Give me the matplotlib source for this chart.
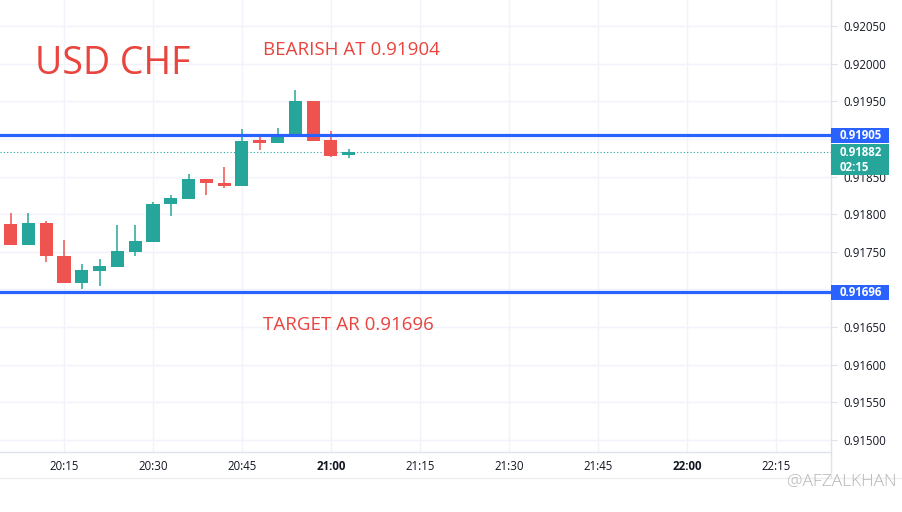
import matplotlib
matplotlib.use("Agg")
import matplotlib.pyplot as plt
from matplotlib.patches import Rectangle
from matplotlib.lines import Line2D

plt.rcParams['font.family'] = ['Open Sans', 'DejaVu Sans']

# ---- data (3-minute candles, minutes after 20:00) ----
times = ["20:06", "20:09", "20:12", "20:15", "20:18", "20:21", "20:24", "20:27", "20:30", "20:33",
         "20:36", "20:39", "20:42", "20:45", "20:48", "20:51", "20:54", "20:57", "21:00", "21:03"]
opens = [0.91787, 0.91759, 0.91788, 0.91744, 0.91709, 0.91725, 0.91730, 0.91750, 0.91763, 0.91813,
         0.91820, 0.91847, 0.91841, 0.91837, 0.91898, 0.91895, 0.91902, 0.91950, 0.91899, 0.91878]
highs = [0.91802, 0.91802, 0.91791, 0.91765, 0.91734, 0.91740, 0.91785, 0.91785, 0.91816, 0.91825,
         0.91853, 0.91847, 0.91863, 0.91913, 0.91903, 0.91915, 0.91965, 0.91950, 0.91910, 0.91886]
lows = [0.91759, 0.91759, 0.91737, 0.91709, 0.91701, 0.91705, 0.91730, 0.91744, 0.91763, 0.91798,
        0.91820, 0.91825, 0.91835, 0.91837, 0.91885, 0.91895, 0.91902, 0.91897, 0.91876, 0.91875]
closes = [0.91759, 0.91788, 0.91744, 0.91709, 0.91726, 0.91731, 0.91751, 0.91764, 0.91814, 0.91822,
          0.91847, 0.91841, 0.91837, 0.91897, 0.91895, 0.91903, 0.91950, 0.91897, 0.91877, 0.91882]

resistance = 0.91905
support = 0.91696
current = 0.91882
countdown = "02:15"

x_tick_labels = ["20:15", "20:30", "20:45", "21:00", "21:15", "21:30", "21:45", "22:00", "22:15"]
y_ticks = [0.91500, 0.91550, 0.91600, 0.91650, 0.91700, 0.91750, 0.91800, 0.91850,
           0.91900, 0.91950, 0.92000, 0.92050]
y_hidden = [0.91700, 0.91900]  # covered by the price badges

title = "USD CHF"
note_top = "BEARISH AT 0.91904"
note_bottom = "TARGET AR 0.91696"
watermark = "@AFZALKHAN"

# ---- styles ----
UP = "#26a69a"
DOWN = "#ef5350"
BLUE = "#2962ff"
TXT_RED = "#e9443d"
GRID = "#f0f3fa"
AXC = "#e0e3eb"
LBL = "#131722"

W, H = 902, 512
fig = plt.figure(figsize=(W / 100, H / 100), dpi=100)
ax = fig.add_axes([0, 60 / H, 831 / W, 452 / H])


def tmin(s):
    h, m = s.split(":")
    return (int(h) - 20) * 60 + int(m)


xs = [tmin(t) for t in times]
ax.set_xlim(4.21, 144.3)
ax.set_ylim(0.91484, 0.920845)

for x, o, h, l, c in zip(xs, opens, highs, lows, closes):
    col = UP if c >= o else DOWN
    ax.vlines(x, l, h, color=col, linewidth=1.1, zorder=3)
    bot = min(o, c)
    ht = max(abs(c - o), 0.000015)
    ax.bar(x, ht, bottom=bot, width=2.2, color=col, edgecolor=col, linewidth=0, zorder=4)

ax.axhline(resistance, color=BLUE, linewidth=2.3, zorder=5)
ax.axhline(support, color=BLUE, linewidth=2.3, zorder=5)
ax.axhline(current, color=UP, linewidth=0.8, linestyle=(0, (1, 2)), zorder=2)

# axes styling
xt = [tmin(t) for t in x_tick_labels]
ax.set_xticks(xt)
ax.set_xticklabels(x_tick_labels)
for lab, s in zip(ax.get_xticklabels(), x_tick_labels):
    if s.endswith(":00"):
        lab.set_fontweight("bold")
ax.yaxis.tick_right()
ax.set_yticks(y_ticks)
ax.set_yticklabels(["" if any(abs(v - hv) < 1e-9 for hv in y_hidden) else f"{v:.5f}" for v in y_ticks])
ax.tick_params(axis="y", length=4, color=AXC, pad=5, labelsize=8.3, labelcolor=LBL)
ax.tick_params(axis="x", length=0, pad=6, labelsize=8.3, labelcolor=LBL)
ax.grid(True, color=GRID, linewidth=1)
ax.set_axisbelow(True)
for s in ("top", "left"):
    ax.spines[s].set_visible(False)
for s in ("right", "bottom"):
    ax.spines[s].set_color(AXC)
    ax.spines[s].set_linewidth(1)

# extension of chart frame below the time scale
fig.add_artist(Line2D([0, 1], [1 - 478 / H, 1 - 478 / H], transform=fig.transFigure, color="#eceef2", linewidth=1))
fig.add_artist(Line2D([831 / W, 831 / W], [1 - 478 / H, 60 / H], transform=fig.transFigure, color=AXC, linewidth=1))

# annotations
fig.text(35 / W, 1 - 64 / H, title, color=TXT_RED, fontsize=27, va="center", ha="left")
fig.text(263 / W, 1 - 50 / H, note_top, color=TXT_RED, fontsize=13.5, va="center", ha="left")
fig.text(263 / W, 1 - 325 / H, note_bottom, color=TXT_RED, fontsize=13.5, va="center", ha="left")

# price scale badges
fig.canvas.draw()
inv = fig.transFigure.inverted()


def ypx(v):
    return ax.transData.transform((0, v))[1]


def badge(v, color, lines, h_px, off_px):
    yc = ypx(v)
    y0 = yc + off_px - h_px
    (fx, fy) = inv.transform((831, y0))
    (fx2, fy2) = inv.transform((889, y0 + h_px))
    fig.add_artist(Rectangle((fx, fy), fx2 - fx, fy2 - fy, transform=fig.transFigure,
                             facecolor=color, edgecolor="none", zorder=10))
    for i, s in enumerate(lines):
        ty = yc - i * 15
        fig.text(840 / W, inv.transform((0, ty))[1], s, color="white", fontsize=8.3,
                 fontweight="bold", va="center", ha="left", zorder=11)


badge(resistance, BLUE, [f"{resistance:.5f}"], 15, 7.5)
badge(support, BLUE, [f"{support:.5f}"], 15, 7.5)
badge(current, UP, [f"{current:.5f}", countdown], 31, 8)

fig.text(897 / W, 1 - 481 / H, watermark, color="#b5b5b5", fontsize=12.5,
         va="center", ha="right", fontweight="light")

fig.savefig("out.png", dpi=100)
